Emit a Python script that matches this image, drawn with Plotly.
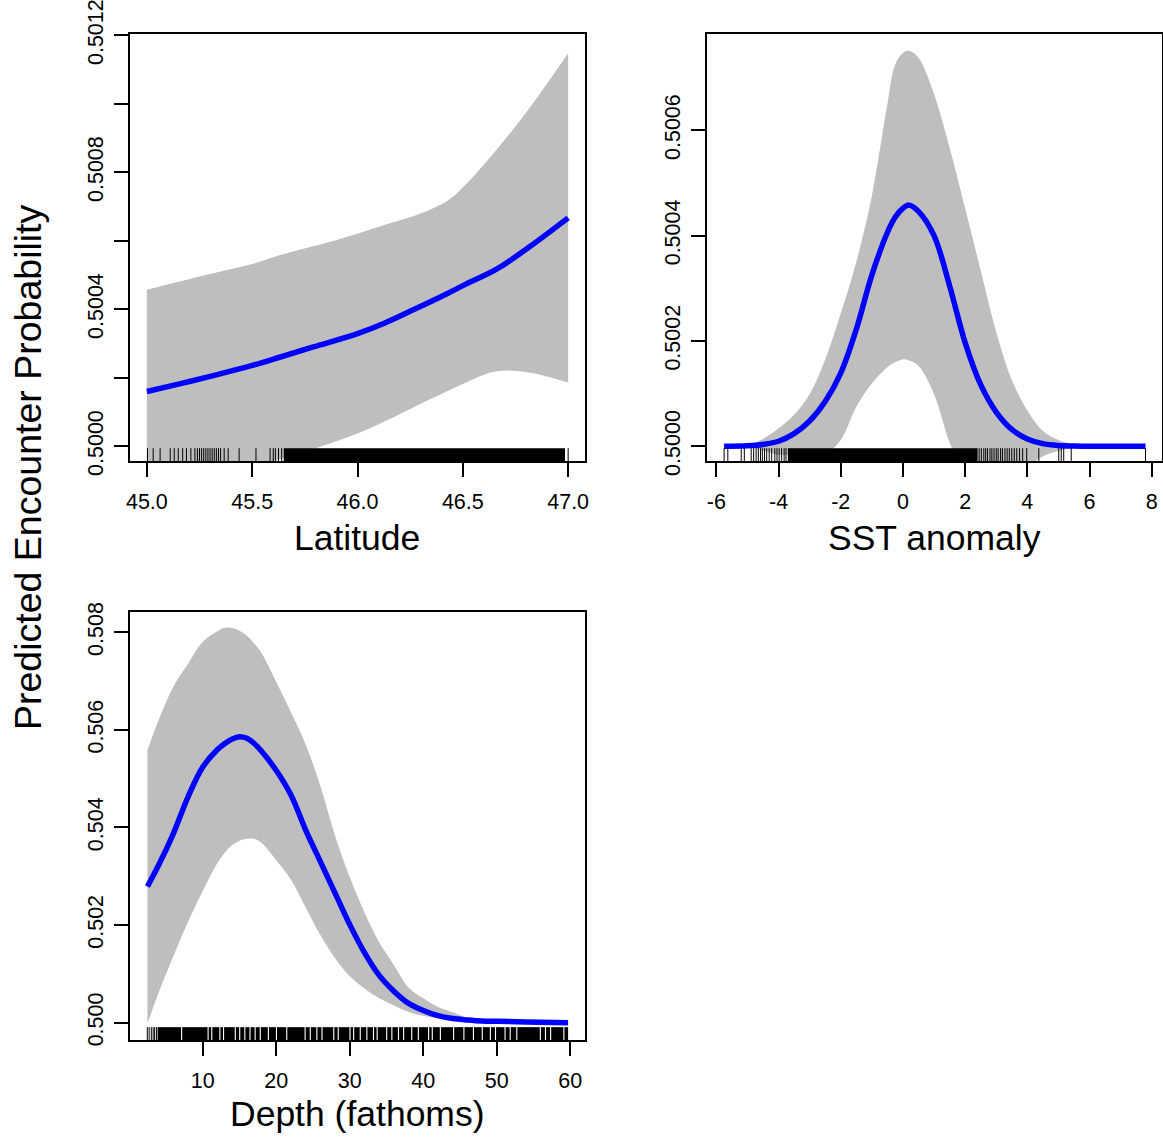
import plotly.graph_objects as go

W, H = 1163, 1137

# ---------------- Panel 1: Latitude ----------------
lat_x = [45.0, 45.16, 45.32, 45.5, 45.63, 45.79, 46.0, 46.13, 46.27, 46.43, 46.51, 46.66, 46.82, 47.0]
lat_fit = [0.500160, 0.500183, 0.500207, 0.500236, 0.500260, 0.500290, 0.500329, 0.500360,
           0.500400, 0.500447, 0.500472, 0.500517, 0.500584, 0.500667]
lat_upper = [0.500457, 0.500482, 0.500506, 0.500532, 0.500558, 0.500584, 0.500621, 0.500647,
             0.500673, 0.500718, 0.500762, 0.500866, 0.500991, 0.501148]
lat_lower = [0.499863, 0.499884, 0.499908, 0.499940, 0.499962, 0.499992, 0.500037, 0.500073,
             0.500115, 0.500162, 0.500185, 0.500219, 0.500215, 0.500186]
lat_rug = [45.003, 45.030, 45.063, 45.111, 45.130, 45.149, 45.170, 45.188, 45.209, 45.228,
           45.24, 45.25, 45.26, 45.27, 45.28, 45.29, 45.30, 45.31, 45.32, 45.33, 45.34, 45.35,
           45.367, 45.386, 45.438, 45.518, 45.585, 45.60, 45.61, 45.625, 45.64, 47.0]
lat_rug_dense = [(45.65, 46.985)]
lat_xticks = [45.0, 45.5, 46.0, 46.5, 47.0]
lat_xlabels = ["45.0", "45.5", "46.0", "46.5", "47.0"]
lat_yticks = [0.5000, 0.5002, 0.5004, 0.5006, 0.5008, 0.5010, 0.5012]
lat_ylabels = ["0.5000", "", "0.5004", "", "0.5008", "", "0.5012"]

# ---------------- Panel 2: SST anomaly ----------------
sst_x = [-5.75, -5.0, -4.5, -4.0, -3.5, -3.0, -2.5, -2.0, -1.5, -1.0, -0.5, -0.25, 0.0, 0.2, 0.5,
         1.0, 1.5, 2.0, 2.5, 3.0, 3.5, 4.0, 4.5, 5.0, 5.5, 6.0, 7.0, 7.8]
sst_fit = [0.5000000, 0.5000010, 0.5000035, 0.5000095, 0.5000240, 0.5000480, 0.5000850,
           0.5001390, 0.5002220, 0.5003250, 0.5004060, 0.5004350, 0.5004520, 0.5004580, 0.5004460,
           0.5004000, 0.5003050, 0.5001970, 0.5001170, 0.5000650, 0.5000320, 0.5000140,
           0.5000050, 0.5000015, 0.5000005, 0.5000000, 0.5000000, 0.5000000]
sst_upper = [0.5000000, 0.5000030, 0.5000140, 0.5000340, 0.5000600, 0.5000990, 0.5001650,
             0.5002520, 0.5003500, 0.5004750, 0.5006500, 0.5007250, 0.5007470, 0.5007510, 0.5007380,
             0.5006690, 0.5005670, 0.5004520, 0.5003340, 0.5002170, 0.5001260, 0.5000680,
             0.5000290, 0.5000120, 0.5000040, 0.5000010, 0.5000000, 0.5000000]
sst_lower = [0.5000000, 0.4999980, 0.4999920, 0.4999840, 0.4999850, 0.4999860, 0.4999860,
             0.5000120, 0.5000750, 0.5001190, 0.5001500, 0.5001600, 0.5001650, 0.5001630, 0.5001530,
             0.5000990, 0.5000070, 0.4999420, 0.4999000, 0.4999130, 0.4999360, 0.4999600,
             0.4999810, 0.4999910, 0.4999970, 0.4999990, 0.5000000, 0.5000000]
sst_rug = [-5.75, -5.63, -5.20, -5.10, -4.88, -4.80, -4.72, -4.65, -4.58, -4.52, -4.45, -4.38,
           -4.30, -4.22, -4.12, -4.05, -3.98, -3.90, -3.82, -3.76,
           2.45, 2.52, 2.60, 2.66, 2.72, 2.80, 2.86, 2.93, 3.00, 3.06, 3.14, 3.20, 3.28, 3.35,
           3.42, 3.50, 3.58, 3.66, 3.75, 3.85, 3.98, 4.37, 5.01, 5.09, 5.17, 5.41, 7.80]
sst_rug_dense = [(-3.70, 2.40)]
sst_xticks = [-6, -4, -2, 0, 2, 4, 6, 8]
sst_xlabels = ["-6", "-4", "-2", "0", "2", "4", "6", "8"]
sst_yticks = [0.5000, 0.5002, 0.5004, 0.5006]
sst_ylabels = ["0.5000", "0.5002", "0.5004", "0.5006"]

# ---------------- Panel 3: Depth ----------------
depth_x = [2.47, 4, 6, 8, 10, 12, 13, 14, 15, 16, 17, 18, 20, 22, 24, 26, 28, 30, 32, 34,
           36, 38, 40, 42, 44, 46, 48, 50, 54, 59.7]
depth_fit = [0.502790, 0.503229, 0.503875, 0.504628, 0.505238, 0.505596, 0.505720, 0.505812,
             0.505860, 0.505826, 0.505720, 0.505561, 0.505166, 0.504664, 0.503946, 0.503300,
             0.502655, 0.502009, 0.501435, 0.500969, 0.500646, 0.500395, 0.500251, 0.500144,
             0.500086, 0.500057, 0.500036, 0.500029, 0.500014, 0.500000]
depth_upper = [0.505580, 0.506200, 0.506887, 0.507355, 0.507806, 0.508022, 0.508093, 0.508086,
               0.508030, 0.507928, 0.507770, 0.507570, 0.506980, 0.506360, 0.505700, 0.504850,
               0.503830, 0.502978, 0.502260, 0.501650, 0.501184, 0.500718, 0.500502, 0.500323,
               0.500215, 0.500100, 0.500060, 0.500035, 0.500015, 0.500005]
depth_lower = [0.499980, 0.500620, 0.501363, 0.502070, 0.502700, 0.503270, 0.503480, 0.503640,
               0.503730, 0.503767, 0.503767, 0.503680, 0.503330, 0.502930, 0.502360, 0.501794,
               0.501320, 0.500950, 0.500700, 0.500500, 0.500350, 0.500220, 0.500140, 0.500090,
               0.500055, 0.500035, 0.500022, 0.500015, 0.500008, 0.500000]
depth_rug = [2.45, 2.70, 3.00, 3.25, 3.45, 3.70]
depth_rug_dense = [(3.85, 7.05), (7.2, 10.65), (10.8, 11.15), (11.3, 12.25), (12.4, 12.75),
                   (12.9, 14.35), (14.5, 14.95), (15.1, 15.65), (15.8, 16.35), (16.5, 17.05),
                   (17.2, 17.75), (17.9, 18.85), (19.0, 19.95), (20.1, 21.35), (21.5, 23.85),
                   (24.0, 24.55), (24.7, 25.45), (25.6, 26.15), (26.3, 27.75), (27.9, 28.35),
                   (28.5, 29.95), (30.1, 30.45), (30.6, 31.35), (31.5, 32.25), (32.4, 33.15),
                   (33.3, 33.65), (33.8, 34.95), (35.1, 35.65), (35.8, 36.55), (36.7, 37.25),
                   (37.4, 38.35), (38.5, 39.25), (39.4, 40.65), (40.8, 41.15), (41.3, 42.25),
                   (42.4, 44.05), (44.2, 45.45), (45.6, 46.75), (46.9, 47.95), (48.1, 49.05),
                   (49.2, 49.75), (49.9, 51.05), (51.2, 51.75), (51.9, 52.65), (52.8, 55.85),
                   (56.0, 56.55), (56.7, 57.25), (57.4, 59.05), (59.2, 59.7)]
depth_xticks = [10, 20, 30, 40, 50, 60]
depth_xlabels = ["10", "20", "30", "40", "50", "60"]
depth_yticks = [0.500, 0.502, 0.504, 0.506, 0.508]
depth_ylabels = ["0.500", "0.502", "0.504", "0.506", "0.508"]

# ---------------- Layout / style ----------------
FONT = "Liberation Sans, Arial, sans-serif"
GRAY = "#BEBEBE"
BLUE = "#0000FF"


def px_x(a, b):
    return [a / W, b / W]


def px_y(top, bottom):
    return [1 - bottom / H, 1 - top / H]


panels = [
    dict(x=lat_x, fit=lat_fit, up=lat_upper, lo=lat_lower, rug=lat_rug, dense=lat_rug_dense,
         xt=lat_xticks, xl=lat_xlabels, yt=lat_yticks, yl=lat_ylabels,
         xr=[44.92, 47.08], yr=[0.499957, 0.501204], xd=px_x(130, 585), yd=px_y(34, 461),
         title="Latitude", tx=357, ty=538),
    dict(x=sst_x, fit=sst_fit, up=sst_upper, lo=sst_lower, rug=sst_rug, dense=sst_rug_dense,
         xt=sst_xticks, xl=sst_xlabels, yt=sst_yticks, yl=sst_ylabels,
         xr=[-6.30, 8.33], yr=[0.499972, 0.500783], xd=px_x(707, 1162), yd=px_y(34, 461),
         title="SST anomaly", tx=934, ty=538),
    dict(x=depth_x, fit=depth_fit, up=depth_upper, lo=depth_lower, rug=depth_rug,
         dense=depth_rug_dense,
         xt=depth_xticks, xl=depth_xlabels, yt=depth_yticks, yl=depth_ylabels,
         xr=[0.1, 62.0], yr=[0.499645, 0.508415], xd=px_x(130, 585), yd=px_y(612, 1040),
         title="Depth (fathoms)", tx=357, ty=1114),
]

fig = go.Figure()
shapes = []
annotations = []
layout = dict(width=W, height=H, margin=dict(l=0, r=0, t=0, b=0, pad=0, autoexpand=False),
              paper_bgcolor="white", plot_bgcolor="white", showlegend=False,
              font=dict(family=FONT, color="black"))

for i, p in enumerate(panels, start=1):
    sx = "" if i == 1 else str(i)
    xa, ya = "x" + sx, "y" + sx
    fig.add_trace(go.Scatter(x=p["x"], y=p["lo"], mode="lines", line=dict(width=0, shape="spline"),
                             xaxis=xa, yaxis=ya, hoverinfo="skip"))
    fig.add_trace(go.Scatter(x=p["x"], y=p["up"], mode="lines", line=dict(width=0, shape="spline"),
                             fill="tonexty", fillcolor=GRAY, xaxis=xa, yaxis=ya, hoverinfo="skip"))
    fig.add_trace(go.Scatter(x=p["x"], y=p["fit"], mode="lines",
                             line=dict(color=BLUE, width=5.5, shape="spline"),
                             xaxis=xa, yaxis=ya))
    axis_common = dict(showgrid=False, zeroline=False, showline=True, linecolor="black",
                       linewidth=1.5, mirror=True, ticks="outside", ticklen=14, tickwidth=1.5,
                       tickcolor="black", automargin=False, ticklabeloverflow="allow",
                       tickfont=dict(size=21.5, family=FONT, color="black"))
    layout["xaxis" + sx] = dict(axis_common, domain=p["xd"], range=p["xr"], anchor=ya,
                                tickmode="array", tickvals=p["xt"], ticktext=p["xl"],
                                ticklabelstandoff=6)
    layout["yaxis" + sx] = dict(axis_common, domain=p["yd"], range=p["yr"], anchor=xa,
                                tickmode="array", tickvals=p["yt"], ticktext=p["yl"],
                                tickangle=-90, ticklabelstandoff=3)
    for v in p["rug"]:
        shapes.append(dict(type="line", xref=xa, yref=ya + " domain", x0=v, x1=v, y0=0, y1=0.03,
                           line=dict(color="black", width=1), layer="above"))
    for a, b in p["dense"]:
        shapes.append(dict(type="rect", xref=xa, yref=ya + " domain", x0=a, x1=b, y0=0, y1=0.03,
                           fillcolor="black", line=dict(width=0), layer="above"))
    annotations.append(dict(text=p["title"], xref="paper", yref="paper",
                            x=p["tx"] / W, y=1 - p["ty"] / H, xanchor="center", yanchor="middle",
                            showarrow=False, font=dict(size=35.5, family=FONT, color="black")))

annotations.append(dict(text="Predicted Encounter Probability", xref="paper", yref="paper",
                        x=28 / W, y=1 - 467 / H, xanchor="center", yanchor="middle",
                        textangle=-90, showarrow=False,
                        font=dict(size=37.5, family=FONT, color="black")))

layout["shapes"] = shapes
layout["annotations"] = annotations
fig.update_layout(**layout)
fig.write_html("out.html")
